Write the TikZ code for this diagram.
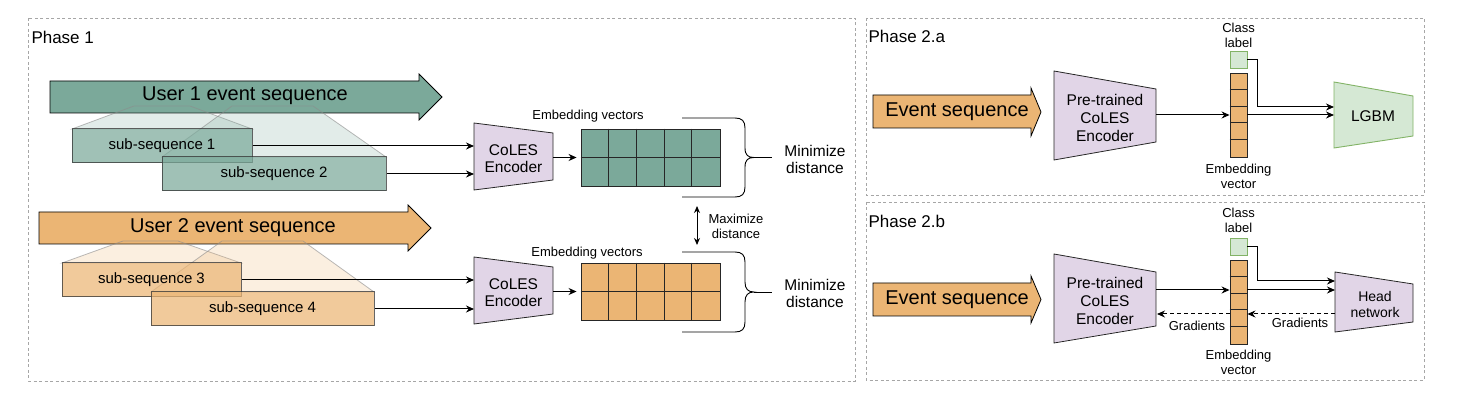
\documentclass[tikz,border=0pt]{standalone}
\usepackage{fontspec}
\setmainfont{Liberation Sans}
\usetikzlibrary{arrows.meta}
\definecolor{tealA}{HTML}{7BA99A}
\definecolor{orgA}{HTML}{EBB574}
\definecolor{purA}{HTML}{E1D5E7}
\definecolor{grnA}{HTML}{D5E8D4}
\definecolor{grnB}{HTML}{82B366}
\definecolor{frameC}{HTML}{A6A6A6}
\begin{document}
\begin{tikzpicture}[x=1pt,y=-1pt,line width=1pt,
  arr/.style={-{Stealth[length=8pt,width=7pt]}, line width=1pt},
  dblarr/.style={{Stealth[length=7pt,width=6pt]}-{Stealth[length=7pt,width=6pt]}, line width=1pt},
  gradline/.style={dash pattern=on 4pt off 3pt},
  phasebox/.style={draw=frameC, line width=0.9pt, dash pattern=on 3pt off 2.5pt},
  ttl/.style={anchor=west, inner sep=1pt, font=\fontsize{17}{20}\selectfont},
  bigtxt/.style={inner sep=0pt, text height=0.8em, text depth=0.1em, font=\fontsize{20}{24}\selectfont},
  seqshape/.style={draw=black, line width=0.8pt},
  shadeT/.style={fill=#1, fill opacity=0.22, draw=black!45, draw opacity=0.6, line width=0.8pt},
  subbox/.style={draw=black!80, draw opacity=0.75, fill opacity=0.72, text opacity=1, minimum width=#1, minimum height=34pt, inner sep=0pt, text height=0.8em, text depth=0.1em, font=\fontsize{15}{18}\selectfont},
  encshape/.style={fill=purA, draw=black!85, line width=0.8pt},
  enctxt/.style={align=center, inner sep=0pt, yshift=-1.5pt, font=\fontsize{15.5}{16.5}\selectfont},
  enctxtB/.style={align=center, inner sep=0pt, yshift=-1.5pt, font=\fontsize{15.5}{18}\selectfont},
  smalltxt/.style={align=center, inner sep=0pt, yshift=-1.2pt, font=\fontsize{13}{15}\selectfont},
  midtxt/.style={align=center, inner sep=0pt, yshift=-1.5pt, font=\fontsize{15.5}{16.5}\selectfont},
  gridbox/.style={draw=black!85, line width=0.9pt, minimum width=139pt, minimum height=57pt, inner sep=0pt},
  vecbox/.style={draw=black!85, fill=orgA, line width=0.9pt, minimum width=17pt, minimum height=84pt, inner sep=0pt},
  clsbox/.style={draw=grnB, fill=grnA, line width=0.9pt, minimum width=17pt, minimum height=17pt, inner sep=0pt}
]
\useasboundingbox (0,0) rectangle (1459,411);

% ---------- frames ----------
\draw[phasebox] (28,18) rectangle (855,381);
\draw[phasebox] (866,18) rectangle (1424,195);
\draw[phasebox] (866,202) rectangle (1424,380);
\node[ttl] (p1) at (30,37) {Phase 1};
\node[ttl] (p2a) at (867,36) {Phase 2.a};
\node[ttl] (p2b) at (867,221) {Phase 2.b};

% ---------- Phase 1, user 1 ----------
\filldraw[seqshape, fill=tealA] (50,81) -- (419,81) -- (419,74) -- (442,97) -- (419,120) -- (419,113) -- (50,113) -- cycle;
\filldraw[shadeT=tealA] (134,106) -- (190,106) -- (252,129) -- (72,129) -- cycle;
\filldraw[shadeT=tealA] (232,106) -- (313,106) -- (386,157) -- (162,157) -- cycle;
\node[bigtxt] (u1) at (245,97) {User 1 event sequence};
\node[subbox=180pt, fill=tealA] (s1) at (162,146) {sub-sequence 1};
\node[subbox=224pt, fill=tealA] (s2) at (274,174) {sub-sequence 2};

% ---------- Phase 1, user 2 ----------
\filldraw[seqshape, fill=orgA] (39,212) -- (408,212) -- (408,205) -- (431,228) -- (408,251) -- (408,244) -- (39,244) -- cycle;
\filldraw[shadeT=orgA] (123,241) -- (178,241) -- (241,263) -- (62,263) -- cycle;
\filldraw[shadeT=orgA] (222,241) -- (303,241) -- (374,292) -- (151,292) -- cycle;
\node[bigtxt] (u2) at (233,229) {User 2 event sequence};
\node[subbox=179pt, fill=orgA] (s3) at (151.5,280) {sub-sequence 3};
\node[subbox=223pt, fill=orgA] (s4) at (262.5,309) {sub-sequence 4};

% ---------- encoders phase 1 ----------
\filldraw[encshape] (474,123) -- (553,133) -- (553,180) -- (474,190) -- cycle;
\node[enctxt] (enc1) at (513.5,157) {CoLES\\Encoder};
\coordinate (e1a) at (474,146);
\coordinate (e1b) at (474,174);
\coordinate (e1o) at (553,157.5);
\filldraw[encshape] (474,257) -- (553,267) -- (553,314) -- (474,324) -- cycle;
\node[enctxt] (enc2) at (513.5,291) {CoLES\\Encoder};
\coordinate (e2a) at (474,280);
\coordinate (e2b) at (474,309);
\coordinate (e2o) at (553,291.5);

\draw[arr] (s1.east) -- (e1a);
\draw[arr] (s2.east) -- (e1b);
\draw[arr] (s3.east) -- (e2a);
\draw[arr] (s4.east) -- (e2b);

% ---------- embedding grids ----------
\node[gridbox, fill=tealA] (g1) at (650.5,157.5) {};
\node[gridbox, fill=orgA] (g2) at (650.5,291.5) {};
\foreach \g in {g1,g2}{
  \foreach \i in {1,...,4}{
    \draw[line width=0.9pt, draw=black!85] ([xshift=\i*27.8pt]\g.north west) -- ([xshift=\i*27.8pt]\g.south west);
  }
  \draw[line width=0.9pt, draw=black!85] (\g.west) -- (\g.east);
}
\draw[arr, shorten >=4pt] (e1o) -- (g1.west);
\draw[arr, shorten >=4pt] (e2o) -- (g2.west);
\node[smalltxt] (ev1) at (588,115) {Embedding vectors};
\node[smalltxt] (ev2) at (587,252) {Embedding vectors};

% ---------- braces ----------
\draw[line width=0.9pt] (682,118) -- (735,118) .. controls (742,118) and (745,121) .. (745,128) -- (745,148) .. controls (745,155) and (748,157.5) .. (754,157.5) .. controls (748,157.5) and (745,160) .. (745,167) -- (745,187) .. controls (745,194) and (742,197) .. (735,197) -- (682,197);
\draw[line width=0.9pt] (754,157.5) -- (772,157.5);
\draw[line width=0.9pt] (682,252) -- (735,252) .. controls (742,252) and (745,255) .. (745,262) -- (745,282) .. controls (745,289) and (748,292) .. (754,292) .. controls (748,292) and (745,295) .. (745,302) -- (745,322) .. controls (745,329) and (742,332) .. (735,332) -- (682,332);
\draw[line width=0.9pt] (754,292) -- (772,292);
\node[midtxt] (min1) at (815,158) {Minimize\\distance};
\node[midtxt] (min2) at (815,292) {Minimize\\distance};

\coordinate (mx1) at (697,206);
\coordinate (mx2) at (697,245);
\draw[dblarr] (mx1) -- (mx2);
\node[smalltxt] (maxd) at (736,225.5) {Maximize\\distance};

% ---------- Phase 2.a ----------
\filldraw[seqshape, fill=orgA] (873,95) -- (1031,95) -- (1031,88) -- (1041,112) -- (1031,136) -- (1031,128) -- (873,128) -- cycle;
\node[bigtxt] (esa) at (957,113) {Event sequence};
\filldraw[encshape] (1054,71) -- (1156,89) -- (1156,142) -- (1054,160) -- cycle;
\node[enctxtB] (pa) at (1105,116) {Pre-trained\\CoLES\\Encoder};
\coordinate (pao) at (1156,115);
\node[vecbox] (va) at (1238.5,115) {};
\foreach \i in {1,...,4}{
  \draw[line width=0.9pt, draw=black!85] ([yshift=-\i*16.8pt]va.north west) -- ([yshift=-\i*16.8pt]va.north east);
}
\node[clsbox] (cla) at (1238.5,59.5) {};
\node[smalltxt] (clta) at (1238.5,34.5) {Class\\label};
\node[smalltxt] (evta) at (1238.5,175) {Embedding\\vector};
\filldraw[fill=grnA, draw=grnB, line width=0.9pt] (1334,82) -- (1413,96) -- (1413,136) -- (1334,148) -- cycle;
\node[inner sep=0pt, font=\fontsize{15.5}{18}\selectfont] (lgbm) at (1373,116) {LGBM};
\coordinate (la1) at (1334,107);
\coordinate (la2) at (1334,115);
\draw[arr] (pao) -- (va.west);
\draw[arr] (cla.east) -- ++(10,0) |- (la1);
\draw[arr] (va.east) -- (la2);

% ---------- Phase 2.b ----------
\filldraw[seqshape, fill=orgA] (873,283) -- (1031,283) -- (1031,276) -- (1041,299.5) -- (1031,323) -- (1031,316) -- (873,316) -- cycle;
\node[bigtxt] (esb) at (957,301) {Event sequence};
\filldraw[encshape] (1054,254) -- (1156,272) -- (1156,326) -- (1054,343) -- cycle;
\node[enctxtB] (pb) at (1105,299) {Pre-trained\\CoLES\\Encoder};
\coordinate (pbo) at (1156,290);
\coordinate (pbg) at (1157,314);
\node[vecbox] (vb) at (1238.5,302) {};
\foreach \i in {1,...,4}{
  \draw[line width=0.9pt, draw=black!85] ([yshift=-\i*16.8pt]vb.north west) -- ([yshift=-\i*16.8pt]vb.north east);
}
\node[clsbox] (clb) at (1238.5,246.5) {};
\node[smalltxt] (cltb) at (1238.5,219.5) {Class\\label};
\node[smalltxt] (evtb) at (1238.5,361) {Embedding\\vector};
\filldraw[encshape] (1335,272) -- (1413,284) -- (1413,322) -- (1335,332) -- cycle;
\node[smalltxt, font=\fontsize{14}{15.5}\selectfont] (head) at (1375,303.5) {Head\\network};
\coordinate (hb1) at (1335,281);
\coordinate (hb2) at (1335,290);
\coordinate (hb3) at (1335,314);
\draw[arr] (pbo) -- (pbo -| vb.west);
\draw[arr] (clb.east) -- ++(10,0) |- (hb1);
\draw[arr] (hb2 -| vb.east) -- (hb2);
\draw[arr, gradline] (hb3) -- (hb3 -| vb.east);
\draw[arr, gradline] (hb3 -| vb.west) -- (pbg);
\node[smalltxt] (gr1) at (1300,322) {Gradients};
\node[smalltxt] (gr2) at (1197,325) {Gradients};
\end{tikzpicture}
\end{document}
